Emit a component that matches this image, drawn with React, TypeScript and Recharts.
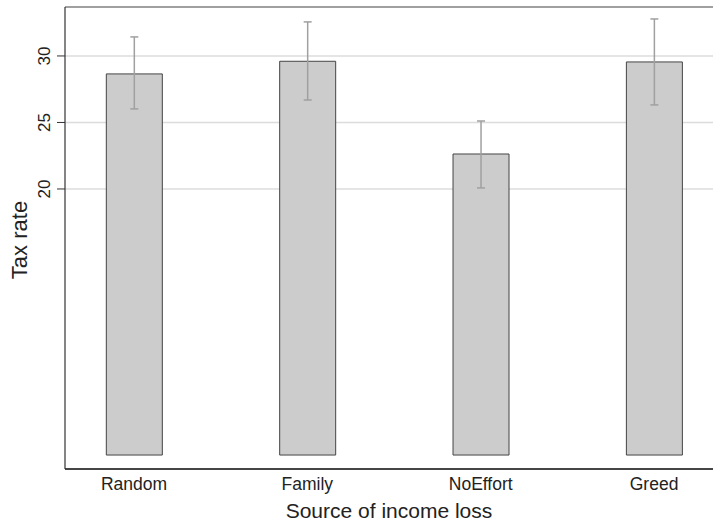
import { Bar, BarChart, CartesianGrid, ErrorBar, ReferenceLine, XAxis, YAxis } from 'recharts';

const CATEGORIES = ['Random', 'Family', 'NoEffort', 'Greed'];
const POSITIONS = [1, 2, 3, 4];
const TAX_RATE = [28.65, 29.6, 22.63, 29.55];
const CI_LOW = [26.02, 26.69, 20.08, 26.32];
const CI_HIGH = [31.43, 32.56, 25.11, 32.78];
const Y_TICKS = [20, 25, 30];

const Y_MIN = -1.05;
const Y_MAX = 33.68;
const FONT = '"Liberation Sans", Arial, sans-serif';

const data = CATEGORIES.map((name, i) => ({
	name,
	pos: POSITIONS[i],
	value: TAX_RATE[i],
	err: [TAX_RATE[i] - CI_LOW[i], CI_HIGH[i] - TAX_RATE[i]],
}));

// Stata style: y tick labels turned on their side
const YTick = (props: any) => {
	const { y, payload } = props;
	const x = 50;
	return (
		<text
			x={x}
			y={y}
			transform={`rotate(-90, ${x}, ${y})`}
			textAnchor="middle"
			fontSize={17}
			fontFamily={FONT}
			fill="#222"
		>
			{payload.value}
		</text>
	);
};

const XTitle = () => (
	<text x={389} y={510} textAnchor="middle" dominantBaseline="central" fontSize={21} fontFamily={FONT} fill="#222">
		Source of income loss
	</text>
);

const YTitle = () => (
	<text
		x={19}
		y={240}
		transform="rotate(-90, 19, 240)"
		textAnchor="middle"
		dominantBaseline="central"
		fontSize={22}
		fontFamily={FONT}
		fill="#222"
	>
		Tax rate
	</text>
);

export default function App() {
	return (
		<div style={{ position: 'absolute', left: 0, top: 0, width: 713, height: 524, background: '#fff' }}>
			<BarChart
				width={713}
				height={524}
				data={data}
				margin={{ top: 7, right: 0, left: 20, bottom: 0 }}
			>
				<CartesianGrid vertical={false} stroke="#dcdcdc" strokeWidth={1.5} />
				<XAxis
					type="number"
					dataKey="pos"
					domain={[0.602, 4.34]}
					ticks={POSITIONS}
					allowDataOverflow
					tickFormatter={(v) => CATEGORIES[v - 1]}
					tickLine={false}
					axisLine={{ stroke: '#111', strokeWidth: 1.5 }}
					tick={{ fontSize: 17.5, fontFamily: FONT, fill: '#222' }}
					tickMargin={3}
					height={55}
				/>
				<YAxis
					type="number"
					domain={[Y_MIN, Y_MAX]}
					ticks={Y_TICKS}
					allowDataOverflow
					width={45}
					tick={<YTick />}
					tickSize={8}
					tickLine={{ stroke: '#333' }}
					axisLine={{ stroke: '#333', strokeWidth: 1.2 }}
				/>
				<ReferenceLine y={Y_MAX} stroke="#888" strokeWidth={1.5} ifOverflow="visible" />
				<Bar
					dataKey="value"
					fill="#cccccc"
					stroke="#444"
					strokeWidth={1}
					barSize={56}
					isAnimationActive={false}
				>
					<ErrorBar dataKey="err" width={4} stroke="#a0a0a0" strokeWidth={1.5} direction="y" />
				</Bar>
				<XTitle />
				<YTitle />
			</BarChart>
		</div>
	);
}
